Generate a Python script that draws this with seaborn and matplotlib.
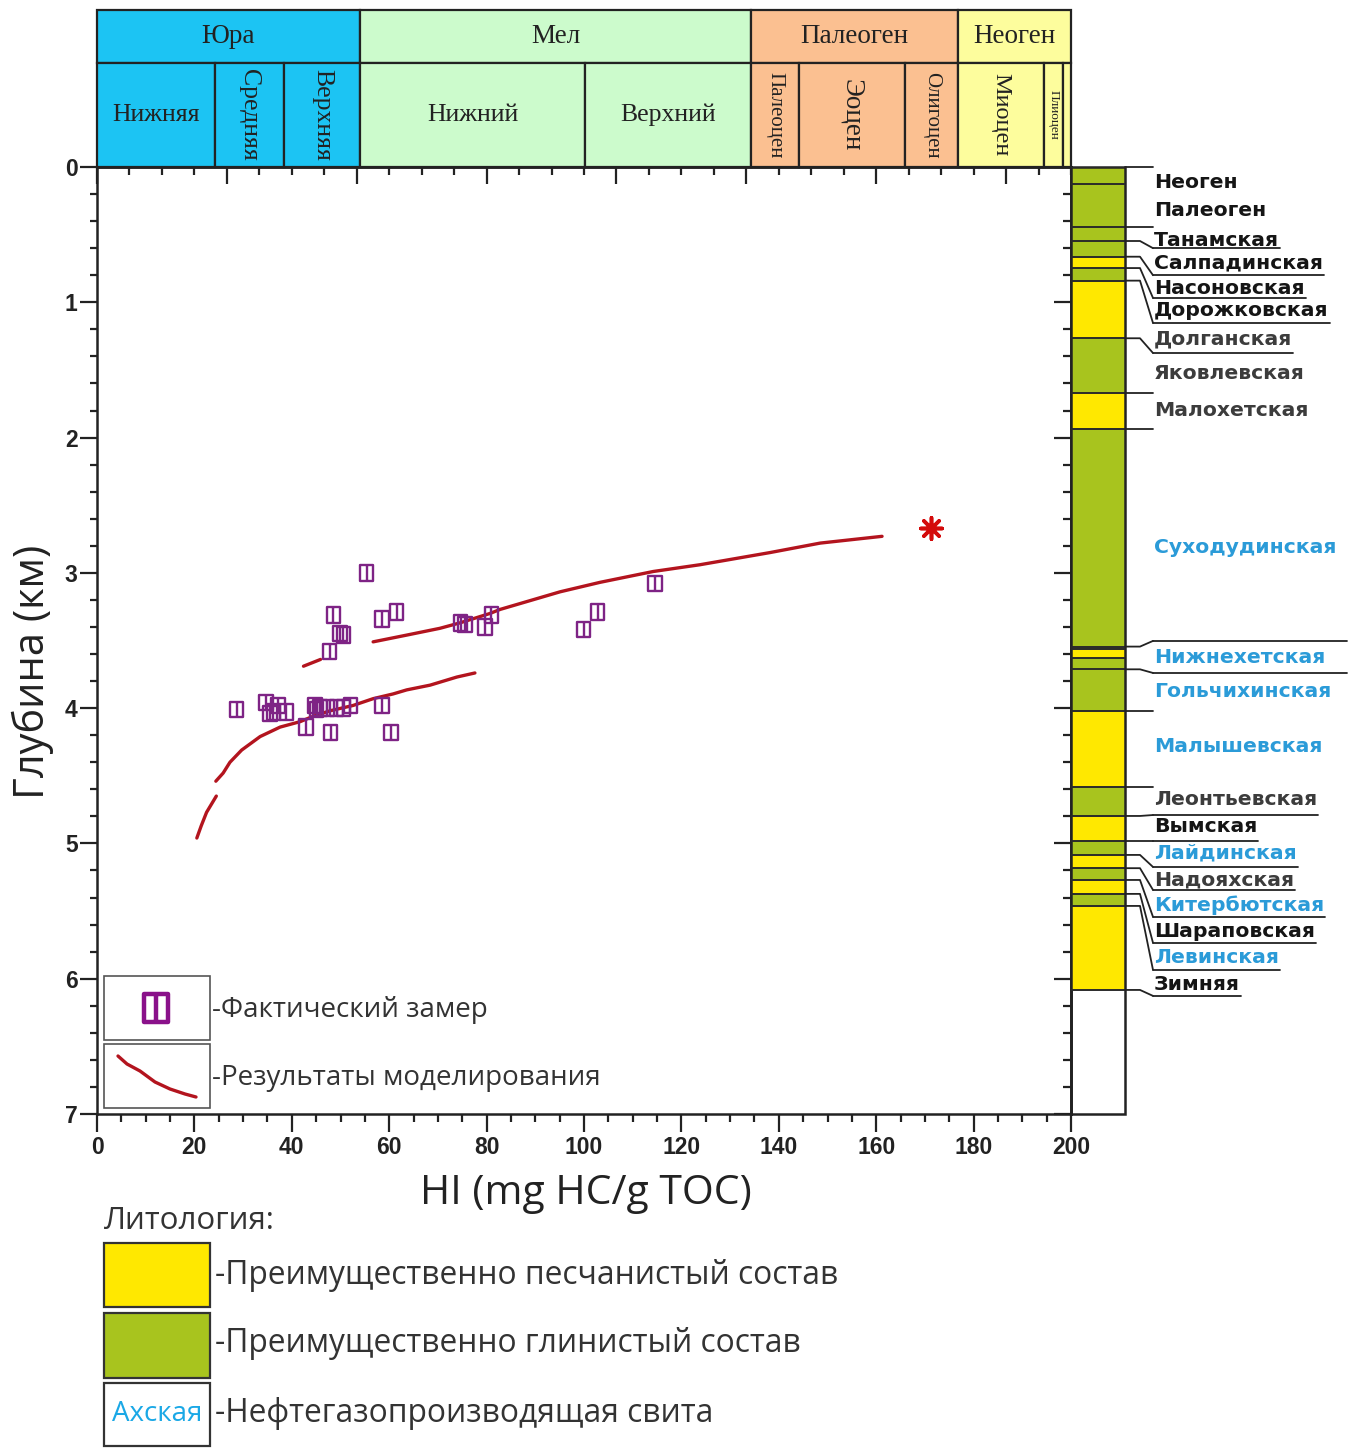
import numpy as np
import pandas as pd
import matplotlib
matplotlib.use("Agg")
import matplotlib.pyplot as plt
from matplotlib.path import Path
from matplotlib.markers import MarkerStyle
from matplotlib.patches import Rectangle
from matplotlib.ticker import MultipleLocator
import seaborn as sns

# ---------------- data ----------------
# measured HI (mg HC/g TOC) vs depth (km)
hi_meas = [55.4, 48.5, 58.5, 61.5, 49.9, 50.6, 47.8, 74.7, 75.6, 79.7, 81.0, 99.9, 102.8, 114.6,
           28.7, 34.7, 37.2, 36.2, 38.9, 35.5, 44.8, 45.1, 45.8, 47.2, 49.2, 50.6, 52.0, 58.5,
           42.9, 48.0, 60.4]
depth_meas = [3.00, 3.31, 3.34, 3.29, 3.45, 3.46, 3.58, 3.37, 3.38, 3.40, 3.31, 3.42, 3.29, 3.08,
              4.01, 3.96, 3.98, 4.03, 4.03, 4.04, 3.98, 4.01, 4.00, 4.00, 4.00, 4.00, 3.98, 3.98,
              4.14, 4.18, 4.18]

# modelling results (broken curve, segment ids)
model_seg = [1, 1, 1, 1,
             2, 2, 2, 2, 2, 2, 2, 2, 2, 2, 2, 2, 2, 2, 2, 2,
             3, 3,
             4, 4, 4, 4, 4, 4, 4, 4, 4, 4, 4, 4, 4]
model_hi = [20.5, 21.4, 22.5, 24.5,
            24.4, 25.9, 27.3, 29.7, 33.5, 37.6, 41.7, 44.4, 47.8, 52.6, 56.7, 60.8, 63.6, 68.4, 73.9, 77.6,
            42.4, 45.9,
            56.7, 63.6, 70.4, 74.5, 80.7, 82.8, 95.1, 103.3, 114.2, 123.8, 138.2, 148.5, 161.2]
model_depth = [4.96, 4.87, 4.77, 4.65,
               4.54, 4.48, 4.40, 4.31, 4.21, 4.14, 4.10, 4.06, 4.02, 3.98, 3.93, 3.895, 3.865, 3.83, 3.77, 3.74,
               3.69, 3.64,
               3.51, 3.46, 3.41, 3.37, 3.30, 3.27, 3.14, 3.07, 2.99, 2.94, 2.85, 2.78, 2.73]

star_hi = [171.3]
star_depth = [2.67]

# geological time scale header (positions on the HI axis)
period_names = ["Юра", "Мел", "Палеоген", "Неоген"]
period_start = [0.0, 54.0, 134.3, 176.8]
period_end = [54.0, 134.3, 176.8, 200.0]
period_colors = ["#1cc4f3", "#ccfbcc", "#fbc091", "#fdfd9d"]

epoch_names = ["Нижняя", "Средняя", "Верхняя", "Нижний", "Верхний",
               "Палеоцен", "Эоцен", "Олигоцен", "Миоцен", "Плиоцен", ""]
epoch_start = [0.0, 24.2, 38.4, 54.0, 100.2, 134.3, 144.1, 165.9, 176.8, 194.5, 198.4]
epoch_end = [24.2, 38.4, 54.0, 100.2, 134.3, 144.1, 165.9, 176.8, 194.5, 198.4, 200.0]
epoch_period = [0, 0, 0, 1, 1, 2, 2, 2, 3, 3, 3]
epoch_vertical = [False, True, True, False, False, True, True, True, True, True, False]

# lithology column
lith_bounds = [0.0, 0.126, 0.44, 0.547, 0.663, 0.747, 0.84, 1.266, 1.673, 1.94, 3.545, 3.565,
               3.627, 3.713, 4.018, 4.58, 4.797, 4.98, 5.085, 5.183, 5.27, 5.373, 5.462, 6.083]
lith_type = ["G", "G", "G", "G", "Y", "G", "Y", "G", "Y", "G", "G", "Y",
             "G", "G", "Y", "G", "Y", "G", "Y", "G", "Y", "G", "Y"]

strata_names = ["Неоген", "Палеоген", "Танамская", "Салпадинская", "Насоновская", "Дорожковская",
                "Долганская", "Яковлевская", "Малохетская", "Суходудинская", "Нижнехетская",
                "Гольчихинская", "Малышевская", "Леонтьевская", "Вымская", "Лайдинская",
                "Надояхская", "Китербютская", "Шараповская", "Левинская", "Зимняя"]
strata_depth = [0.118, 0.318, 0.54, 0.71, 0.90, 1.064, 1.271, 1.523, 1.803, 2.816, 3.629,
                3.88, 4.287, 4.678, 4.878, 5.07, 5.27, 5.455, 5.654, 5.846, 6.046]
strata_tone = ["k", "k", "k", "k", "k", "k", "g", "g", "g", "b", "b",
               "b", "b", "g", "k", "b", "g", "b", "k", "b", "k"]
strata_underline = [None, None, 0.60, 0.80, 0.968, 1.153, 1.375, None, None, None, None,
                    None, None, 4.79, 4.98, 5.174, 5.344, 5.543, 5.735, 5.935, 6.127]

leader_from = [0.0, 0.44, 0.547, 0.663, 0.747, 0.84, 1.266, 1.673, 1.94, 3.545, 3.713,
               4.018, 4.58, 4.797, 4.98, 5.085, 5.183, 5.27, 5.373, 5.462, 6.083]
leader_to = [0.0, 0.44, 0.60, 0.80, 0.968, 1.153, 1.375, 1.673, 1.94, 3.503, 3.74,
             4.018, 4.58, 4.79, 4.98, 5.174, 5.344, 5.543, 5.735, 5.935, 6.127]
long_lines = [3.503, 3.74]

legend_items = ["-Фактический замер", "-Результаты моделирования"]
lith_legend = ["-Преимущественно песчанистый состав", "-Преимущественно глинистый состав",
               "-Нефтегазопроизводящая свита"]

# ---------------- style ----------------
sns.set_theme(style="ticks")
plt.rcParams["font.family"] = ["DejaVu Sans"]
INK = "#222222"
PURPLE = "#7e2385"
RED = "#b3141e"
YELLOW = "#ffe800"
GREEN = "#a8c41e"
BLUE = "#2b9bd8"
TONES = {"k": "#151515", "g": "#3c3c3c", "b": BLUE}
LITH = {"Y": YELLOW, "G": GREEN}
SANS = ["Open Sans", "DejaVu Sans"]
SERIF = ["Liberation Serif", "DejaVu Serif"]

W, H = 1357, 1448
fig = plt.figure(figsize=(W / 100, H / 100), dpi=100)
fig.patch.set_facecolor("white")


def box(x0, y0, x1, y1):
    return [x0 / W, 1 - y1 / H, (x1 - x0) / W, (y1 - y0) / H]


ax = fig.add_axes(box(97, 167, 1071, 1114))
axh = fig.add_axes(box(97, 10, 1071, 167))
axl = fig.add_axes(box(1071, 167, 1357, 1114))
ov = fig.add_axes([0, 0, 1, 1])
ov.set_xlim(0, W)
ov.set_ylim(H, 0)
ov.axis("off")
ov.set_zorder(6)

# ---------------- main plot ----------------
bv = [(-0.43, -0.5), (0.43, -0.5), (0.43, 0.5), (-0.43, 0.5), (-0.43, -0.5), (0, -0.5), (0, 0.5)]
bc = [Path.MOVETO, Path.LINETO, Path.LINETO, Path.LINETO, Path.CLOSEPOLY, Path.MOVETO, Path.LINETO]
box_marker = MarkerStyle(Path(bv, bc))

df_model = pd.DataFrame({"HI": model_hi, "depth": model_depth, "seg": model_seg})
sns.lineplot(data=df_model, x="HI", y="depth", units="seg", estimator=None, sort=False,
             color=RED, linewidth=2.4, ax=ax, legend=False, zorder=2)

df_meas = pd.DataFrame({"HI": hi_meas, "depth": depth_meas})
sns.scatterplot(data=df_meas, x="HI", y="depth", marker=box_marker, s=125,
                facecolors="none", edgecolor=PURPLE, linewidth=1.7, ax=ax, legend=False, zorder=3)

sns.scatterplot(x=star_hi, y=star_depth, marker=(8, 2, 0), s=240, color="#d40a0a",
                linewidth=2.6, ax=ax, legend=False, zorder=4)

ax.set_xlim(0, 200)
ax.set_ylim(7, 0)
for s in ax.spines.values():
    s.set_linewidth(1.8)
    s.set_color(INK)
ax.xaxis.set_major_locator(MultipleLocator(20))
ax.xaxis.set_minor_locator(MultipleLocator(5))
ax.yaxis.set_major_locator(MultipleLocator(1))
ax.yaxis.set_minor_locator(MultipleLocator(0.2))
ax.tick_params(axis="x", which="major", direction="out", length=13, width=1.6, pad=3,
               color=INK, top=False)
ax.tick_params(axis="x", which="minor", direction="out", length=6, width=1.6, color=INK, top=False)
ax.tick_params(axis="y", which="major", direction="out", length=12, width=1.6, pad=2,
               color=INK, right=False)
ax.tick_params(axis="y", which="minor", direction="out", length=5, width=1.6, color=INK, right=False)
for lab in ax.get_xticklabels() + ax.get_yticklabels():
    lab.set_fontfamily(["Liberation Sans", "DejaVu Sans"])
    lab.set_fontweight("bold")
    lab.set_fontsize(16.5)
    lab.set_color(INK)

sec = ax.secondary_xaxis("top")
sec.xaxis.set_major_locator(MultipleLocator(80 / 3))
sec.xaxis.set_minor_locator(MultipleLocator(20 / 3))
sec.tick_params(which="major", direction="in", length=12, width=1.6, color=INK, labeltop=False)
sec.tick_params(which="minor", direction="in", length=6, width=1.6, color=INK)
sec.spines["top"].set_linewidth(1.8)

secy = ax.secondary_yaxis("right")
secy.yaxis.set_major_locator(MultipleLocator(1))
secy.yaxis.set_minor_locator(MultipleLocator(0.2))
secy.tick_params(which="major", direction="in", length=12, width=1.6, color=INK, labelright=False)
secy.tick_params(which="minor", direction="in", length=6, width=1.6, color=INK)
secy.spines["right"].set_linewidth(1.8)

ax.set_xlabel("HI (mg HC/g TOC)", family=SANS, fontsize=29.5, color=INK, va="center")
ax.xaxis.set_label_coords(0.502, -0.084)
ax.set_ylabel("Глубина (км)", family=SANS, fontsize=30, color=INK, va="center")
ax.yaxis.set_label_coords(-0.066, 0.467)

# ---------------- header ----------------
split = 0.662
axh.set_xlim(0, 200)
axh.set_ylim(0, 1)
axh.axis("off")
pw = np.array(period_end) - np.array(period_start)
bars = axh.bar(period_start, 1 - split, bottom=split, width=pw, align="edge",
               color=period_colors, edgecolor=INK, linewidth=1.6)
for p in bars:
    p.set_clip_on(False)
ew = np.array(epoch_end) - np.array(epoch_start)
bars = axh.bar(epoch_start, split, bottom=0, width=ew, align="edge",
               color=[period_colors[i] for i in epoch_period], edgecolor=INK, linewidth=1.6)
for p in bars:
    p.set_clip_on(False)
for name, a, b in zip(period_names, period_start, period_end):
    axh.text((a + b) / 2, (1 + split) / 2, name, ha="center", va="center",
             family=SERIF, fontsize=19.5, color=INK)
epoch_fs = {"Палеоцен": 15, "Олигоцен": 15, "Плиоцен": 9.5, "Эоцен": 19.5, "Миоцен": 17.5}
for name, a, b, vert in zip(epoch_names, epoch_start, epoch_end, epoch_vertical):
    if not name:
        continue
    axh.text((a + b) / 2, split / 2, name, ha="center", va="center",
             rotation=270 if vert else 0, family=SERIF,
             fontsize=epoch_fs.get(name, 18.5), color=INK)

# ---------------- lithology column ----------------
COLW = 54
axl.set_xlim(0, 286)
axl.set_ylim(7, 0)
axl.axis("off")
tops = np.array(lith_bounds[:-1])
heights = np.diff(lith_bounds)
axl.bar(0, heights, bottom=tops, width=COLW, align="edge",
        color=[LITH[t] for t in lith_type], edgecolor="none")
axl.hlines(lith_bounds, 0, COLW, color="#2a2a2a", linewidth=1.4)
frame = axl.bar(0, 7, bottom=0, width=COLW, align="edge", fill=False, edgecolor=INK, linewidth=1.8)
for p in frame:
    p.set_clip_on(False)

# leaders
for f, t in zip(leader_from, leader_to):
    axl.plot([COLW, 69, 82], [f, f, t], color=INK, linewidth=1.3, clip_on=False)
for y in long_lines:
    axl.plot([82, 276], [y, y], color=INK, linewidth=1.3, clip_on=False)

renderer = fig.canvas.get_renderer()
inv = axl.transData.inverted()
for name, d, tone, ul in zip(strata_names, strata_depth, strata_tone, strata_underline):
    t = axl.text(83, d, name, ha="left", va="center", fontsize=14.7, fontweight="bold",
                 family=["DejaVu Sans"], color=TONES[tone])
    if ul is not None:
        bb = t.get_window_extent(renderer=renderer)
        xend = inv.transform((bb.x1, bb.y0))[0]
        axl.plot([82, xend + 1], [ul, ul], color=INK, linewidth=1.3, clip_on=False)

# ---------------- legends ----------------
for (y0, y1) in [(976, 1040), (1044, 1108)]:
    ov.add_patch(Rectangle((104, y0), 106, y1 - y0, facecolor="white", edgecolor="#555555",
                           linewidth=1.2, zorder=1))
ov.scatter([156], [1008], marker=box_marker, s=420, facecolors="none", edgecolors="#8a118a",
           linewidths=3.2, zorder=2)
ov.plot([118, 127, 140, 155, 170, 185, 196], [1056, 1064, 1071, 1082, 1089, 1094, 1097],
        color=RED, linewidth=2.4, zorder=2)
ov.text(212, 1010, legend_items[0], ha="left", va="center", family=SANS, fontsize=20, color="#333333")
ov.text(212, 1078, legend_items[1], ha="left", va="center", family=SANS, fontsize=20, color="#333333")

ov.text(104, 1221, "Литология:", ha="left", va="center", family=SANS, fontsize=22.5, color="#333333")
for (y0, y1), fc in zip([(1243, 1307), (1313, 1378), (1383, 1446)], [YELLOW, GREEN, "white"]):
    ov.add_patch(Rectangle((104, y0), 106, y1 - y0, facecolor=fc, edgecolor="#333333",
                           linewidth=1.6, zorder=1))
ov.text(157, 1414, "Ахская", ha="center", va="center", family=SANS, fontsize=20, color="#1aa8e6")
for y, txt in zip([1275, 1344, 1414], lith_legend):
    ov.text(215, y, txt, ha="left", va="center", family=SANS, fontsize=22.9, color="#333333")

fig.savefig("out.png", dpi=100, facecolor="white")
